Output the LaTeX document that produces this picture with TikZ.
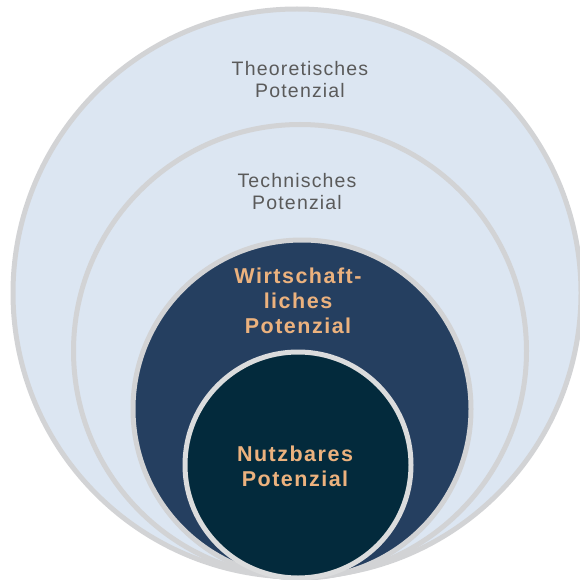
\documentclass[tikz,border=0pt]{standalone}
\usepackage{fontspec}
\setmainfont{Liberation Sans}
\usetikzlibrary{positioning}
\definecolor{lightcolor}{RGB}{220,230,242}
\definecolor{navycolor}{RGB}{37,63,96}
\definecolor{darkcolor}{RGB}{3,42,60}
\definecolor{rimcolor}{RGB}{210,211,213}
\definecolor{greytext}{RGB}{90,90,90}
\definecolor{tantext}{RGB}{236,178,126}
\begin{document}
\begin{tikzpicture}[x=1pt,y=-1pt]

\useasboundingbox (0,0) rectangle (579,580);

\begin{scope}[every node/.style={draw=rimcolor,circle,line width=5pt,inner sep=0pt}]
\node[fill=lightcolor,minimum size=568pt] (theo) at (297,293) {};
\node[fill=lightcolor,minimum size=453pt] (tech) at (300,351) {};
\node[fill=navycolor,minimum size=338pt] (wirt) at (302,409) {};
\node[fill=darkcolor,minimum size=226pt,draw=rimcolor!80!white] (nutz) at (298,465) {};
\end{scope}

\begin{scope}[every node/.style={align=center,font=\fontsize{19.5}{22}\selectfont\addfontfeature{LetterSpace=6},text=greytext}]
\node (theotext) at (300,80) {Theoretisches\\Potenzial};
\node (techtext) at (297,192) {Technisches\\Potenzial};
\end{scope}

\begin{scope}[every node/.style={align=center,font=\fontsize{21.5}{25}\bfseries\selectfont\addfontfeature{LetterSpace=7},text=tantext}]
\node (wirttext) at (298,301) {Wirtschaft-\\liches\\Potenzial};
\node (nutztext) at (295,466) {Nutzbares\\Potenzial};
\end{scope}

\end{tikzpicture}
\end{document}
